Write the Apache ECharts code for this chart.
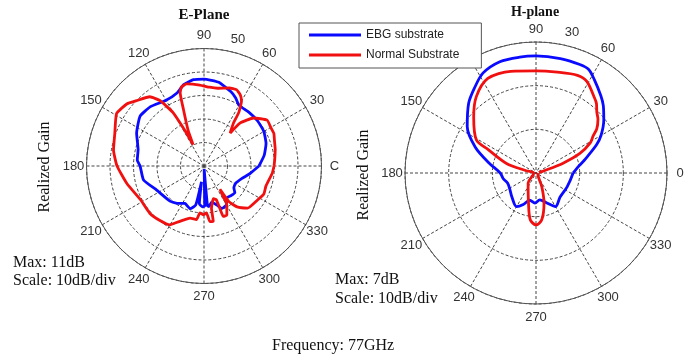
<!DOCTYPE html>
<html><head><meta charset="utf-8">
<script src="https://cdn.jsdelivr.net/npm/echarts@6/dist/echarts.min.js"></script>
<style>html,body{margin:0;padding:0;background:#fff}#c{width:694px;height:356px}</style>
</head><body><div id="c"></div>
<script>
// ---- data: [angle (deg), realized gain (dB)] ----
const seriesNames = ['EBG substrate', 'Normal Substrate'];
const seriesColors = ['#0a0aff', '#f01010'];

const ePlaneEBG = [[0,-16.6],[10,-14.0],[20,-11.9],[30,-10.6],[40,-10.2],[50,-10.2],[60,-10.2],[65,-8.1],[70,-6.4],[80,-3.8],[90,-3.0],[97,-3.0],[104,-4.3],[110,-6.8],[120,-7.7],[132,-6.0],[142,-5.5],[154,-8.1],[166,-11.1],[175,-11.5],[180,-12.8],[193,-13.6],[207,-17.4],[226,-19.2],[234,-20.4],[243,-22.1],[252,-20.9],[258,-23.0],[261,-33.2],[263,-23.8],[268,-22.6],[271,-23.0],[273,-38.7],[275,-23.0],[277,-22.6],[282,-24.3],[288,-22.6],[293,-20.4],[300,-20.9],[306,-23.4],[312,-23.0],[319,-22.6],[324,-24.3],[331,-24.7],[342,-23.0],[350,-20.4],[360,-16.6]];

const ePlaneNormal = [[0,-10.2],[5,-9.8],[13,-8.9],[20,-8.1],[25,-7.2],[30,-7.2],[36,-6.8],[44,-10.6],[50,-16.2],[51.5,-22.1],[53,-20.9],[55.5,-17.9],[57,-12.8],[60,-8.1],[63,-6.0],[67,-4.7],[72,-5.1],[80,-6.4],[86,-6.4],[93,-5.5],[102,-4.3],[106,-5.1],[108,-7.2],[110,-14.5],[114,-23.4],[117,-29.8],[118,-24.3],[119,-19.2],[120,-14.0],[122,-10.2],[124,-6.4],[128,-2.6],[136,0.0],[141,2.1],[149,3.4],[160,0.4],[170,-0.9],[180,-3.0],[193,-6.4],[208,-9.4],[221,-9.4],[231,-10.2],[240,-11.1],[243,-12.8],[249,-15.3],[255,-17.0],[262,-17.0],[265,-20.0],[269,-19.2],[273,-20.0],[276,-16.2],[279.5,-16.2],[280,-21.7],[286,-25.5],[290,-24.7],[290.5,-20.0],[291,-17.0],[295,-17.0],[301,-21.3],[302,-24.7],[304.5,-28.0],[305,-21.5],[309,-17.6],[316,-14.2],[327,-13.1],[335,-11.9],[342,-12.3],[354,-10.8],[360,-10.2]];

const hPlaneEBG = [[0,-11.5],[10,-9.9],[15,-8.5],[25,-4.7],[30,-2.8],[38,-0.3],[45,1.8],[50,3.1],[58,5.2],[63,6.6],[68,6.8],[78,6.8],[90,6.8],[98,6.8],[108,6.8],[118,5.9],[126,4.0],[134,2.2],[146,-1.0],[157,-4.9],[168,-9.0],[180,-11.8],[190,-12.4],[200,-13.1],[213,-12.9],[225,-12.2],[240,-11.1],[248,-12.2],[257,-13.6],[268,-13.1],[278,-13.8],[290,-12.7],[300,-11.1],[315,-12.2],[336,-12.2],[360,-11.5]];

const hPlaneNormal = [[10,-19.3],[15,-18.2],[20,-13.4],[24,-9.0],[29,-5.8],[33,-4.4],[36,-2.8],[41,-1.2],[45,-0.3],[49,1.1],[53,2.0],[61,4.0],[67,4.3],[78,3.6],[90,3.4],[104,4.0],[117,4.3],[128,2.2],[138,-0.8],[151,-4.4],[154,-7.9],[162,-12.9],[167,-17.7],[180,-19.5],[233,-17.0],[256,-12.9],[263,-9.2],[270,-8.1],[277,-9.2],[285,-12.9],[293,-16.6],[330,-19.5],[360,-19.5]];

const ePlaneAngleLabels = ['C','30','60','90','120','150','180','210','240','270','300','330'];
const hPlaneAngleLabels = ['0','30','60','90','120','150','180','210','240','270','300','330'];
const ePlaneGainRange = [-40, 10];
const hPlaneGainRange = [-20, 10];
const gainStep = 10;
const angleStep = 30;

// ---- chart ----
function toPolar(arr) { return arr.map(p => [p[1], p[0]]); }
const dash = [3, 2];
const labelFont = 'Liberation Sans, Arial, sans-serif';
const serif = 'Liberation Serif, Times New Roman, serif';

function angleAxis(idx) {
  return {
    polarIndex: idx, type: 'value', min: 0, max: 360, interval: angleStep,
    startAngle: 0, clockwise: false,
    axisLine: { show: true, lineStyle: { color: '#555', width: 1 } },
    axisTick: { show: false },
    axisLabel: { show: false },
    splitLine: { show: true, lineStyle: { color: '#444', type: dash, width: 1 } }
  };
}
function radiusAxis(idx, range) {
  return {
    polarIndex: idx, type: 'value', min: range[0], max: range[1], interval: gainStep,
    axisLine: { show: false }, axisTick: { show: false }, axisLabel: { show: false },
    splitLine: { show: true, showMaxLine: false, lineStyle: { color: '#444', type: dash, width: 1 } }
  };
}
function lineSeries(polarIndex, k, arr, smooth) {
  return {
    type: 'line', name: seriesNames[k], coordinateSystem: 'polar', polarIndex,
    data: toPolar(arr), showSymbol: false, symbol: 'none', smooth: smooth,
    lineStyle: { color: seriesColors[k], width: 2.8 }, itemStyle: { color: seriesColors[k] },
    z: 3
  };
}
function txt(text, x, y, size, opts) {
  opts = opts || {};
  return {
    type: 'text', x, y, rotation: opts.rot || 0, z: opts.z || 10,
    style: { text, fill: opts.color || '#111', font: (opts.bold ? 'bold ' : '') + size + 'px ' + (opts.family || serif),
      textAlign: opts.align || 'center', textVerticalAlign: 'middle' }
  };
}

const chart = echarts.init(document.getElementById('c'), null, { renderer: 'canvas' });
chart.setOption({
  animation: false,
  backgroundColor: '#fff',
  polar: [
    { center: [204, 166], radius: 117.5 },
    { center: [536, 173], radius: 131 }
  ],
  angleAxis: [angleAxis(0), angleAxis(1)],
  radiusAxis: [radiusAxis(0, ePlaneGainRange), radiusAxis(1, hPlaneGainRange)],
  legend: {
    data: seriesNames, orient: 'vertical', left: 299, top: 23,
    icon: 'rect', itemWidth: 52, itemHeight: 3, itemGap: 8,
    padding: [6, 22, 7, 10], backgroundColor: '#fff', borderColor: '#555', borderWidth: 1,
    textStyle: { fontSize: 12, fontFamily: labelFont, color: '#222' }, z: 20
  },
  series: [
    lineSeries(0, 0, ePlaneEBG, 0.15), lineSeries(0, 1, ePlaneNormal, 0.15),
    lineSeries(1, 0, hPlaneEBG, 0.3), lineSeries(1, 1, hPlaneNormal, 0.3)
  ]
});

// angle tick labels, centred just outside each polar's outer circle (positions from the library's polar scales)
function angleLabels(seriesIndex, range, labels, pad) {
  const c = chart.convertToPixel({ seriesIndex }, [range[0], 0]);
  return labels.map((t, i) => {
    const p = chart.convertToPixel({ seriesIndex }, [range[1], i * angleStep]);
    const dx = p[0] - c[0], dy = p[1] - c[1];
    const R = Math.hypot(dx, dy), k = (R + pad) / R;
    return txt(t, c[0] + dx * k, c[1] + dy * k, 13, { family: labelFont, color: '#333', z: 1 });
  });
}

chart.setOption({
  graphic: [
    ...angleLabels(0, ePlaneGainRange, ePlaneAngleLabels, 13),
    ...angleLabels(2, hPlaneGainRange, hPlaneAngleLabels, 13),
    txt('50', 238, 39, 13, { family: labelFont, color: '#333', z: 1 }),
    txt('30', 572, 32, 13, { family: labelFont, color: '#333', z: 1 }),
    txt('E-Plane', 204, 15, 15, { bold: true }),
    txt('H-plane', 535, 12, 14, { bold: true }),
    txt('Realized Gain', 45, 167, 16, { rot: Math.PI / 2 }),
    txt('Realized Gain', 364, 175, 16, { rot: Math.PI / 2 }),
    txt('Max: 11dB', 13, 263, 16, { align: 'left' }),
    txt('Scale: 10dB/div', 13, 281, 16, { align: 'left' }),
    txt('Max: 7dB', 335, 280, 16, { align: 'left' }),
    txt('Scale: 10dB/div', 335, 299, 16, { align: 'left' }),
    txt('Frequency: 77GHz', 272, 346, 16, { align: 'left' })
  ]
});
</script></body></html>
